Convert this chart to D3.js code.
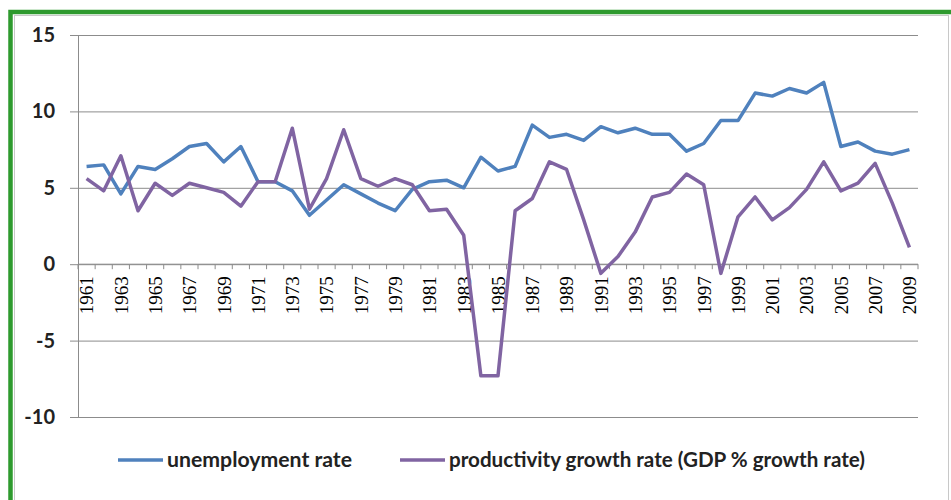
<!DOCTYPE html>
<html>
<head>
<meta charset="utf-8">
<script src="https://cdn.jsdelivr.net/npm/d3@7"></script>
<style>
  body { margin: 0; background: #fff; }
  svg { display: block; }
</style>
</head>
<body>
<div class="chart"></div>
<script>
// data
const years = [1961,1962,1963,1964,1965,1966,1967,1968,1969,1970,
               1971,1972,1973,1974,1975,1976,1977,1978,1979,1980,
               1981,1982,1983,1984,1985,1986,1987,1988,1989,1990,
               1991,1992,1993,1994,1995,1996,1997,1998,1999,2000,
               2001,2002,2003,2004,2005,2006,2007,2008,2009];

const unemployment = [6.4,6.5,4.6,6.4,6.2,6.9,7.7,7.9,6.7,7.7,
                      5.4,5.4,4.8,3.2,4.2,5.2,4.6,4.0,3.5,4.9,
                      5.4,5.5,5.0,7.0,6.1,6.4,9.1,8.3,8.5,8.1,
                      9.0,8.6,8.9,8.5,8.5,7.4,7.9,9.4,9.4,11.2,
                      11.0,11.5,11.2,11.9,7.7,8.0,7.4,7.2,7.5];

const productivity = [5.6,4.8,7.1,3.5,5.3,4.5,5.3,5.0,4.7,3.8,
                      5.4,5.4,8.9,3.6,5.6,8.8,5.6,5.1,5.6,5.2,
                      3.5,3.6,1.9,-7.3,-7.3,3.5,4.3,6.7,6.2,2.9,
                      -0.6,0.5,2.1,4.4,4.7,5.9,5.2,-0.6,3.1,4.4,
                      2.9,3.7,4.9,6.7,4.8,5.3,6.6,4.0,1.1];

const yTicks = [-10,-5,0,5,10,15];
const seriesNames = ["unemployment rate", "productivity growth rate (GDP % growth rate)"];
const colors = ["#4f81bd", "#8064a2"];

// plot area (pixels)
const W = 951, H = 500;
const plot = {left: 78, right: 918, top: 35, bottom: 417};

const svg = d3.select(".chart")
    .append("svg")
    .attr("width", W)
    .attr("height", H);

// frame (green, cut off at right and bottom)
svg.append("rect")
    .attr("x", 10.5).attr("y", 12)
    .attr("width", 960).attr("height", 520)
    .attr("fill", "none")
    .attr("stroke", "#2e9a2e")
    .attr("stroke-width", 4.5);
svg.append("rect")
    .attr("x", 14.5).attr("y", 15.5)
    .attr("width", 934).attr("height", 500)
    .attr("fill", "none")
    .attr("stroke", "#c8c8c8")
    .attr("stroke-width", 1);

// scales
const x = d3.scaleBand()
    .domain(years)
    .range([plot.left, plot.right]);

const y = d3.scaleLinear()
    .domain([-10, 15])
    .range([plot.bottom, plot.top]);

// gridlines
const grid = svg.append("g")
    .attr("transform", "translate(" + plot.left + ",0)")
    .call(d3.axisLeft(y).tickValues(yTicks).tickSize(-(plot.right - plot.left)).tickFormat(""));
grid.select(".domain").remove();
grid.selectAll(".tick line").attr("stroke", "#8c8c8c").attr("stroke-width", 1);

// y axis, plain hyphen for negatives like the original
const yAxis = svg.append("g")
    .attr("transform", "translate(" + plot.left + ",0)")
    .call(d3.axisLeft(y).tickValues(yTicks).tickSize(8).tickPadding(15).tickFormat(d => String(d)));
yAxis.select(".domain").attr("stroke", "#8c8c8c");
yAxis.selectAll(".tick line").attr("stroke", "#8c8c8c");
yAxis.selectAll(".tick text")
    .attr("font-family", "Lato, 'Open Sans', sans-serif")
    .attr("font-weight", "bold")
    .attr("font-size", "20px")
    .attr("fill", "#222");

// x axis at zero, ticks between categories
const xAxis = svg.append("g")
    .attr("transform", "translate(0," + y(0) + ")");
xAxis.append("line")
    .attr("x1", plot.left).attr("x2", plot.right)
    .attr("stroke", "#8c8c8c");
xAxis.selectAll("line.tk")
    .data(years.concat(["end"]))
    .join("line")
    .classed("tk", true)
    .attr("x1", d => d === "end" ? plot.right : x(d))
    .attr("x2", d => d === "end" ? plot.right : x(d))
    .attr("y1", 0).attr("y2", 5)
    .attr("stroke", "#8c8c8c");
xAxis.selectAll("text")
    .data(years.filter((d, i) => i % 2 === 0))
    .join("text")
    .attr("transform", d => "translate(" + (x(d) + x.bandwidth() / 2) + ",12) rotate(-90)")
    .attr("dy", "0.36em")
    .attr("text-anchor", "end")
    .attr("font-family", "'Liberation Serif', serif")
    .attr("font-size", "19px")
    .attr("fill", "#000")
    .attr("textLength", 38)
    .attr("lengthAdjust", "spacingAndGlyphs")
    .text(d => d);

// lines
const line = d3.line()
    .x((d, i) => x(years[i]) + x.bandwidth() / 2)
    .y(d => y(d));

[unemployment, productivity].forEach(function(series, k) {
    svg.append("path")
        .datum(series)
        .attr("fill", "none")
        .attr("stroke", colors[k])
        .attr("stroke-width", 3.5)
        .attr("stroke-linejoin", "round")
        .attr("d", line);
});

// legend, text widths matched to the original
const legendX = [118, 400];
const legendW = [185, 416];
const legend = svg.selectAll("g.legend")
    .data(seriesNames)
    .join("g")
    .classed("legend", true)
    .attr("transform", (d, i) => "translate(" + legendX[i] + ",460)");
legend.append("line")
    .attr("x1", 0).attr("x2", 45)
    .attr("stroke", (d, i) => colors[i])
    .attr("stroke-width", 3.5);
legend.append("text")
    .attr("x", 49)
    .attr("dy", "0.35em")
    .attr("font-family", "Lato, 'Open Sans', sans-serif")
    .attr("font-weight", "bold")
    .attr("font-size", "20px")
    .attr("fill", "#222")
    .attr("textLength", (d, i) => legendW[i])
    .attr("lengthAdjust", "spacingAndGlyphs")
    .text(d => d);
</script>
</body>
</html>
